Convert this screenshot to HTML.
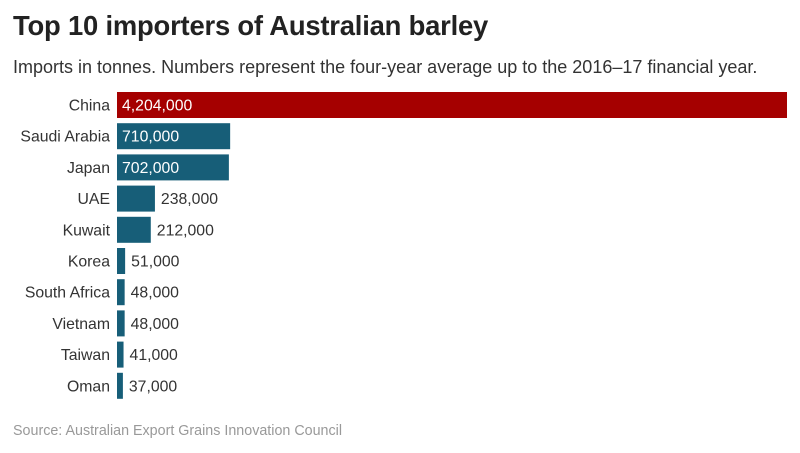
<!DOCTYPE html>
<html><head><meta charset="utf-8"><style>
body{margin:0;background:#fff;font-family:"Liberation Sans",sans-serif;}
#wrap{position:relative;width:800px;height:453px;overflow:hidden;}
h1{position:absolute;left:13px;top:10px;margin:0;font-size:27.4px;font-weight:bold;color:#222;letter-spacing:-0.2px}
.sub{position:absolute;left:13px;top:57px;font-size:18px;color:#333}
.src{position:absolute;left:13px;top:423px;font-size:14.3px;color:#999}
</style></head><body>
<div id="wrap">
<h1>Top 10 importers of Australian barley</h1>
<div class="sub">Imports in tonnes. Numbers represent the four-year average up to the 2016–17 financial year.</div>
<svg id="chart" width="800" height="453" style="position:absolute;left:0;top:0"></svg>
<div class="src">Source: Australian Export Grains Innovation Council</div>
</div>
<script>
const categories=["China","Saudi Arabia","Japan","UAE","Kuwait","Korea","South Africa","Vietnam","Taiwan","Oman"];
const values=[4204000,710000,702000,238000,212000,51000,48000,48000,41000,37000];
const valueLabels=["4,204,000","710,000","702,000","238,000","212,000","51,000","48,000","48,000","41,000","37,000"];
const NS="http://www.w3.org/2000/svg";
const svg=document.getElementById("chart");
const x0=117,x1=787,maxV=4204000;
const xs=v=>x0+(v/maxV)*(x1-x0);
const yTop=i=>92+i*31.2;
const bh=26;
categories.forEach((c,i)=>{
  const y=yTop(i);
  const t=document.createElementNS(NS,"text");
  
  
  t.setAttribute("x",110);t.setAttribute("y",y+bh/2+5.5);
  t.setAttribute("text-anchor","end");t.setAttribute("font-size","15.8");t.setAttribute("fill","#333");
  t.setAttribute("font-family","Liberation Sans, sans-serif");
  t.textContent=c;svg.appendChild(t);
  const r=document.createElementNS(NS,"rect");
  
  
  const w=xs(values[i])-x0;
  r.setAttribute("x",x0);r.setAttribute("y",y);r.setAttribute("width",w);r.setAttribute("height",bh);
  r.setAttribute("fill",i===0?"#a50000":"#175e78");
  svg.appendChild(r);
  const v=document.createElementNS(NS,"text");
  
  
  const inside=w>90;
  v.setAttribute("x",inside?x0+5:x0+w+6);v.setAttribute("y",y+bh/2+5.5);
  v.setAttribute("font-size","15.8");v.setAttribute("fill",inside?"#fff":"#333");
  v.setAttribute("font-family","Liberation Sans, sans-serif");
  v.textContent=valueLabels[i];svg.appendChild(v);
});
</script>
</body></html>
